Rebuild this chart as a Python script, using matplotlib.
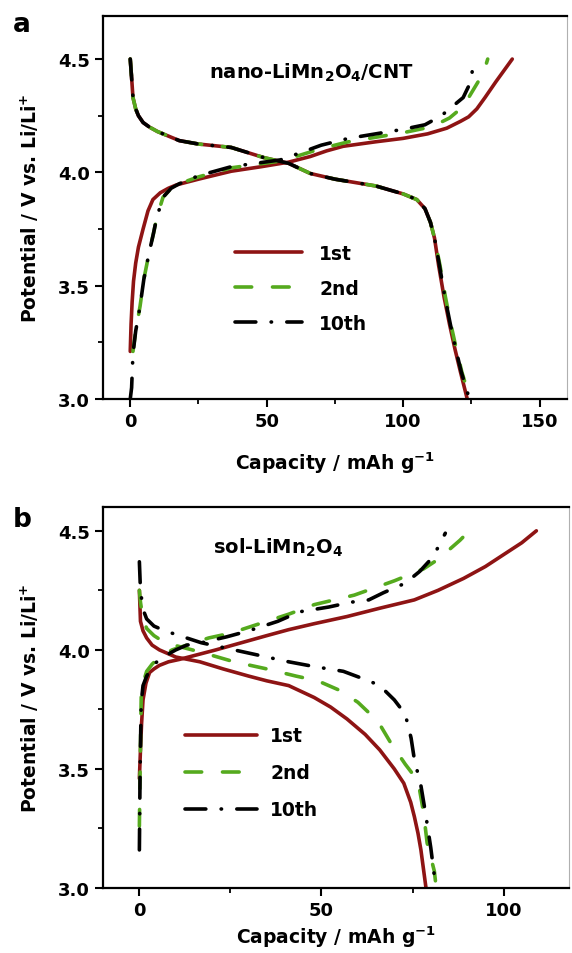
#!/usr/bin/env python3

import matplotlib
# Agg backend, no display available
matplotlib.use('Agg')
from matplotlib import pyplot as plt
from matplotlib.ticker import MultipleLocator, FormatStrFormatter

# ---- panel a: nano-LiMn2O4/CNT ----
a_chg1_x = [0, 0.3, 0.7, 1.2, 2, 3, 4.7, 6.5, 8.3, 11, 14, 17, 25, 37, 48, 58, 66,
            72, 78, 90, 100, 109, 116, 121, 124, 127, 130, 134, 137, 140]
a_chg1_v = [3.21, 3.33, 3.43, 3.52, 3.60, 3.67, 3.75, 3.83, 3.88, 3.91, 3.93, 3.945,
            3.97, 4.005, 4.025, 4.045, 4.07, 4.095, 4.115, 4.135, 4.15, 4.17, 4.195,
            4.225, 4.245, 4.28, 4.33, 4.40, 4.45, 4.50]
a_chg2_x = [1.0, 2, 3.6, 5, 7, 8.5, 9.7, 12, 15, 18, 25, 37, 46, 55, 62, 70, 80, 90,
            100, 108, 112, 117, 121, 124, 126, 128, 130, 131]
a_chg2_v = [3.21, 3.30, 3.41, 3.53, 3.65, 3.73, 3.80, 3.89, 3.93, 3.95, 3.98, 4.02,
            4.035, 4.05, 4.075, 4.105, 4.135, 4.155, 4.175, 4.195, 4.21, 4.24, 4.28,
            4.33, 4.37, 4.41, 4.46, 4.50]
a_chg10_x = [0, 0.5, 1, 2, 3.6, 5, 7, 8.5, 9.7, 12, 15, 18, 25, 37, 46, 55, 62, 70,
             80, 90, 100, 108, 114, 118, 122, 124, 125, 126]
a_chg10_v = [3.0, 3.05, 3.2, 3.3, 3.41, 3.53, 3.65, 3.73, 3.80, 3.89, 3.93, 3.95,
             3.985, 4.025, 4.04, 4.055, 4.085, 4.12, 4.15, 4.17, 4.19, 4.21, 4.25,
             4.29, 4.33, 4.38, 4.42, 4.50]
a_dis1_x = [0, 0.3, 0.6, 1, 2, 3, 4.7, 7, 10, 14, 18, 25, 37, 49, 58, 66, 75, 90,
            100, 105, 108, 110, 111.5, 113, 115, 117, 119, 121, 123.5]
a_dis1_v = [4.50, 4.45, 4.40, 4.33, 4.28, 4.25, 4.22, 4.20, 4.18, 4.16, 4.14, 4.125,
            4.11, 4.065, 4.04, 3.995, 3.97, 3.94, 3.905, 3.88, 3.84, 3.78, 3.71, 3.59,
            3.45, 3.33, 3.22, 3.12, 3.0]
a_dis2_x = [0, 0.3, 0.6, 1, 2, 3, 4.7, 7, 10, 14, 18, 25, 37, 49, 58, 66, 75, 90,
            100, 105, 108, 110, 111.5, 113.5, 115.5, 117.5, 119.5, 121.5, 124.5]
a_dis2_v = a_dis1_v
a_dis10_x = [0, 0.3, 0.6, 1, 2, 3, 4.7, 7, 10, 14, 18, 25, 37, 49, 58, 66, 75, 90,
             100, 105, 108, 110, 111.5, 113.3, 115.3, 117.3, 119.3, 121.3, 124.3]
a_dis10_v = a_dis1_v

# ---- panel b: sol-LiMn2O4 ----
b_chg1_x = [0, 0.3, 0.6, 1, 1.8, 2.8, 4, 5.5, 8, 11, 16, 21, 28, 35, 41, 48, 57,
            66, 75.5, 82, 89, 95, 101, 105, 109]
b_chg1_v = [3.46, 3.58, 3.69, 3.79, 3.86, 3.905, 3.92, 3.935, 3.95, 3.96, 3.98, 4.0,
            4.03, 4.06, 4.085, 4.11, 4.14, 4.175, 4.21, 4.25, 4.30, 4.35, 4.41, 4.45,
            4.50]
b_chg2_x = [0, 0.2, 0.5, 1, 2, 3.5, 5.5, 9, 13, 19, 25, 33, 41, 48, 59, 70, 78, 82,
            85, 88, 90.6]
b_chg2_v = [3.26, 3.5, 3.8, 3.86, 3.91, 3.94, 3.97, 4.0, 4.02, 4.05, 4.07, 4.11,
            4.15, 4.19, 4.23, 4.29, 4.34, 4.38, 4.42, 4.46, 4.50]
b_chg10_x = [0, 0.2, 0.5, 1, 2, 4, 6.5, 10, 13, 17, 24, 30, 38, 44, 52, 58, 63, 67,
             73, 77, 80, 82, 84]
b_chg10_v = [3.16, 3.5, 3.78, 3.85, 3.89, 3.94, 3.97, 4.0, 4.02, 4.03, 4.055, 4.08,
             4.12, 4.16, 4.18, 4.20, 4.21, 4.24, 4.28, 4.33, 4.38, 4.43, 4.49]
b_dis1_x = [0, 0.3, 1, 2, 3.5, 5.5, 10, 16.6, 23, 30, 35, 41, 48, 52.5, 57, 62, 66,
            70, 72.6, 74.5, 75.5, 76.5, 77.3, 78, 78.7]
b_dis1_v = [4.25, 4.12, 4.08, 4.05, 4.02, 4.0, 3.97, 3.95, 3.92, 3.89, 3.87, 3.85,
            3.80, 3.76, 3.71, 3.645, 3.58, 3.50, 3.44, 3.36, 3.30, 3.23, 3.16, 3.08,
            3.0]
b_dis2_x = [0, 0.3, 1, 2, 4, 7, 12, 17, 26, 35, 43, 49, 55, 60, 65.5, 69, 73, 76.5,
            78, 79, 81, 81.5]
b_dis2_v = [4.25, 4.2, 4.13, 4.09, 4.06, 4.03, 4.01, 3.99, 3.95, 3.92, 3.89, 3.87,
            3.83, 3.78, 3.70, 3.61, 3.52, 3.45, 3.32, 3.19, 3.07, 3.0]
b_dis10_x = [0, 0.3, 1, 2, 4, 7, 12, 17, 26, 35, 41, 48, 52, 56, 63, 66, 70, 73,
             74.6, 75.5, 77.3, 78.5, 80, 81]
b_dis10_v = [4.37, 4.25, 4.17, 4.13, 4.10, 4.08, 4.055, 4.03, 4.0, 3.97, 3.95, 3.93,
             3.92, 3.91, 3.87, 3.85, 3.79, 3.73, 3.63, 3.54, 3.43, 3.32, 3.17, 3.05]

cycle_labels = ['1st', '2nd', '10th']

RED = '#8e1414'
GREEN = '#55aa1e'
BLACK = '#000000'


def style_axes(ax, xmax, ymax, xpad):
    """ Frame, ticks and limits like the original figure """
    ax.set_xlim(-10, xmax)
    ax.set_ylim(3.0, ymax)
    ax.xaxis.set_major_locator(MultipleLocator(50))
    ax.xaxis.set_minor_locator(MultipleLocator(25))
    ax.yaxis.set_major_locator(MultipleLocator(0.5))
    ax.yaxis.set_minor_locator(MultipleLocator(0.25))
    ax.yaxis.set_major_formatter(FormatStrFormatter('%.1f'))
    for side in ['left', 'bottom', 'top']:
        ax.spines[side].set_linewidth(1.6)
    ax.spines['right'].set_linewidth(0.8)
    ax.spines['right'].set_color('#b0b0b0')
    ax.tick_params(which='major', direction='out', length=6, width=1.5,
                   top=False, right=False, labelsize=13)
    ax.tick_params(which='minor', direction='out', length=3.5, width=1.3,
                   top=False, right=False)
    for lab in ax.get_xticklabels() + ax.get_yticklabels():
        lab.set_fontweight('bold')
    ax.set_xlabel('Capacity / mAh g$^{-1}$', fontsize=13.5, fontweight='bold',
                  labelpad=xpad)
    ax.set_ylabel('Potential / V vs. Li/Li$^{+}$', fontsize=13.5,
                  fontweight='bold', labelpad=12)


def plot_cycles(ax, curves):
    """ One charge and one discharge curve per cycle """
    styles = [dict(color=RED, linestyle='-'),
              dict(color=GREEN, linestyle=(0, (12, 15))),
              dict(color=BLACK, linestyle=(0, (15, 11, 0.3, 11)))]
    for (chg_x, chg_v, dis_x, dis_v), st, lab in zip(curves, styles, cycle_labels):
        ax.plot(chg_x, chg_v, lw=2.6, dash_capstyle='round',
                solid_capstyle='round', label=lab, **st)
        ax.plot(dis_x, dis_v, lw=2.6, dash_capstyle='round',
                solid_capstyle='round', **st)


def main():
    plt.rcParams['font.family'] = ['DejaVu Sans']
    plt.rcParams['mathtext.default'] = 'regular'
    plt.rcParams['lines.scale_dashes'] = False

    fig = plt.figure(figsize=(5.72, 9.54), dpi=100)

    ax_a = fig.add_axes([0.180, 0.5807, 0.811, 0.4015])
    curves_a = [(a_chg1_x, a_chg1_v, a_dis1_x, a_dis1_v),
                (a_chg2_x, a_chg2_v, a_dis2_x, a_dis2_v),
                (a_chg10_x, a_chg10_v, a_dis10_x, a_dis10_v)]
    plot_cycles(ax_a, curves_a)
    style_axes(ax_a, 160, 4.69, 14)
    ax_a.legend(loc='upper left', bbox_to_anchor=(0.284, 0.405), frameon=False,
                handlelength=3.6, handletextpad=0.9, labelspacing=0.85,
                borderpad=0, borderaxespad=0,
                prop={'size': 13.5, 'weight': 'bold'})
    ax_a.text(0.45, 0.854, 'nano-LiMn$_2$O$_4$/CNT', transform=ax_a.transAxes,
              ha='center', va='center', fontsize=14, fontweight='bold')

    ax_b = fig.add_axes([0.180, 0.0681, 0.815, 0.3994])
    curves_b = [(b_chg1_x, b_chg1_v, b_dis1_x, b_dis1_v),
                (b_chg2_x, b_chg2_v, b_dis2_x, b_dis2_v),
                (b_chg10_x, b_chg10_v, b_dis10_x, b_dis10_v)]
    plot_cycles(ax_b, curves_b)
    style_axes(ax_b, 118, 4.6, 3)
    ax_b.legend(loc='upper left', bbox_to_anchor=(0.176, 0.424), frameon=False,
                handlelength=3.85, handletextpad=0.7, labelspacing=0.95,
                borderpad=0, borderaxespad=0,
                prop={'size': 13.5, 'weight': 'bold'})
    ax_b.text(0.375, 0.895, 'sol-LiMn$_2$O$_4$', transform=ax_b.transAxes,
              ha='center', va='center', fontsize=14, fontweight='bold')

    fig.text(22 / 572, 1 - 25 / 954, 'a', fontsize=19, fontweight='bold',
             ha='center', va='center')
    fig.text(22 / 572, 1 - 520 / 954, 'b', fontsize=19, fontweight='bold',
             ha='center', va='center')

    fig.savefig('out.png', dpi=100)


if __name__ == "__main__":
    main()
